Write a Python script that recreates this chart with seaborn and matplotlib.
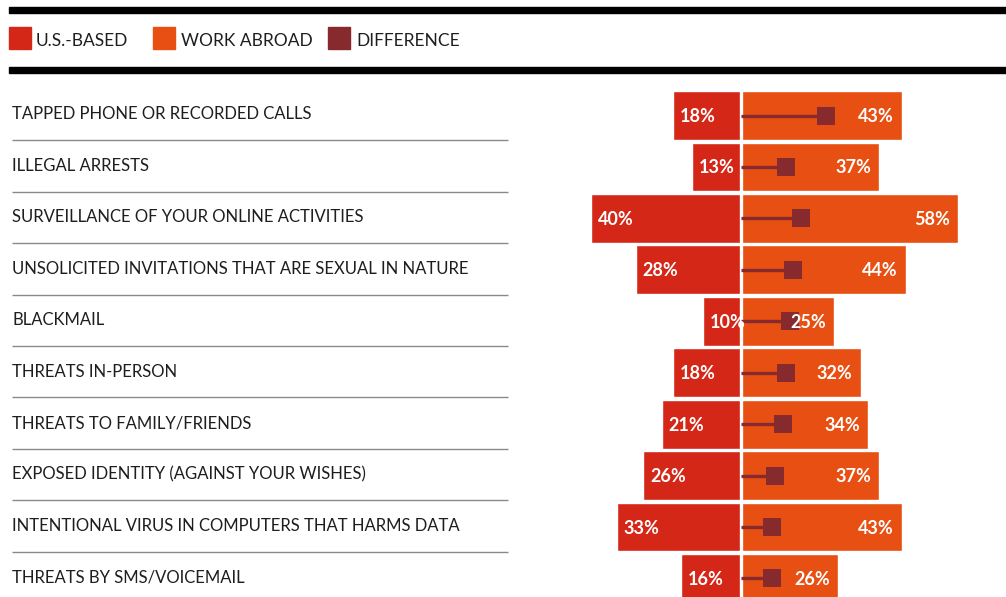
import numpy as np
import pandas as pd
import matplotlib
matplotlib.use("Agg")
import matplotlib.pyplot as plt
from matplotlib.patches import Rectangle
from matplotlib.transforms import blended_transform_factory
import seaborn as sns

categories = [
    "TAPPED PHONE OR RECORDED CALLS",
    "ILLEGAL ARRESTS",
    "SURVEILLANCE OF YOUR ONLINE ACTIVITIES",
    "UNSOLICITED INVITATIONS THAT ARE SEXUAL IN NATURE",
    "BLACKMAIL",
    "THREATS IN-PERSON",
    "THREATS TO FAMILY/FRIENDS",
    "EXPOSED IDENTITY (AGAINST YOUR WISHES)",
    "INTENTIONAL VIRUS IN COMPUTERS THAT HARMS DATA",
    "THREATS BY SMS/VOICEMAIL",
]
us_based = [18, 13, 40, 28, 10, 18, 21, 26, 33, 16]
work_abroad = [43, 37, 58, 44, 25, 32, 34, 37, 43, 26]
difference = [22.9, 12.0, 16.0, 14.1, 13.1, 12.0, 11.2, 9.1, 8.3, 8.3]
legend_labels = ["U.S.-BASED", "WORK ABROAD", "DIFFERENCE"]

RED = "#D42718"
ORANGE = "#E84F12"
DARK = "#862A2E"
TEXT = "#1e1e1e"

sns.set_theme(style="white")
plt.rcParams["font.family"] = ["Lato", "DejaVu Sans"]

W, H, DPI = 1006, 597, 100
fig = plt.figure(figsize=(W / DPI, H / DPI), dpi=DPI)
ax = fig.add_axes([0, 0, 1, 1])

df = pd.DataFrame({
    "category": categories,
    "us": [-v for v in us_based],
    "abroad": work_abroad,
})

sns.barplot(data=df, y="category", x="us", orient="h", color=RED,
            width=0.95, saturation=1, ax=ax)
sns.barplot(data=df, y="category", x="abroad", orient="h", color=ORANGE,
            width=0.95, saturation=1, ax=ax)

pos = np.arange(len(categories))
ax.hlines(pos, 0, difference, color=DARK, lw=2.4, zorder=3)
sns.scatterplot(x=difference, y=pos, marker="s", s=150, color=DARK,
                linewidth=0, zorder=4, ax=ax)

# white gap splitting the two halves
ax.axvline(0, color="white", lw=2.4, zorder=2.5)

# scale: 3.75 px per percentage point, centre at x=740.5 px
px_per = 3.75
cx = 740.5
ax.set_xlim(-cx / px_per, (W - cx) / px_per)
row_top = 115.5
pitch = 51.44
ax.set_ylim((H - row_top) / pitch, -row_top / pitch)
ax.axis("off")

# value labels
for i, (u, a) in enumerate(zip(us_based, work_abroad)):
    ax.text(-u + 7 / px_per, i + 0.02, f"{u}%", color="white", fontsize=13,
            fontweight="bold", ha="left", va="center", zorder=5)
    ax.text(a - 8 / px_per, i + 0.02, f"{a}%", color="white", fontsize=13,
            fontweight="bold", ha="right", va="center", zorder=5)

# category labels and separators
tr = blended_transform_factory(fig.transFigure, ax.transData)
for i, c in enumerate(categories):
    ax.text(12 / W, i - 0.02, c, transform=tr, color=TEXT, fontsize=12,
            ha="left", va="center")
    if i < len(categories) - 1:
        ax.plot([12 / W, 508 / W], [i + 0.48, i + 0.48], transform=tr,
                color="#8a8a8a", lw=1, solid_capstyle="butt")

# header rules
for y_top in (7, 67):
    fig.patches.append(Rectangle((9 / W, 1 - (y_top + 6) / H), 1 - 9 / W, 6 / H,
                                 transform=fig.transFigure, color="black"))

# legend
for x0, tx, col, lab in zip((9, 153, 328), (36, 181, 356),
                            (RED, ORANGE, DARK), legend_labels):
    fig.patches.append(Rectangle((x0 / W, 1 - 49 / H), 22 / W, 22 / H,
                                 transform=fig.transFigure, color=col))
    fig.text(tx / W, 1 - 41.5 / H, lab, color=TEXT, fontsize=12.5,
             ha="left", va="center")

fig.savefig("out.png", dpi=DPI)
